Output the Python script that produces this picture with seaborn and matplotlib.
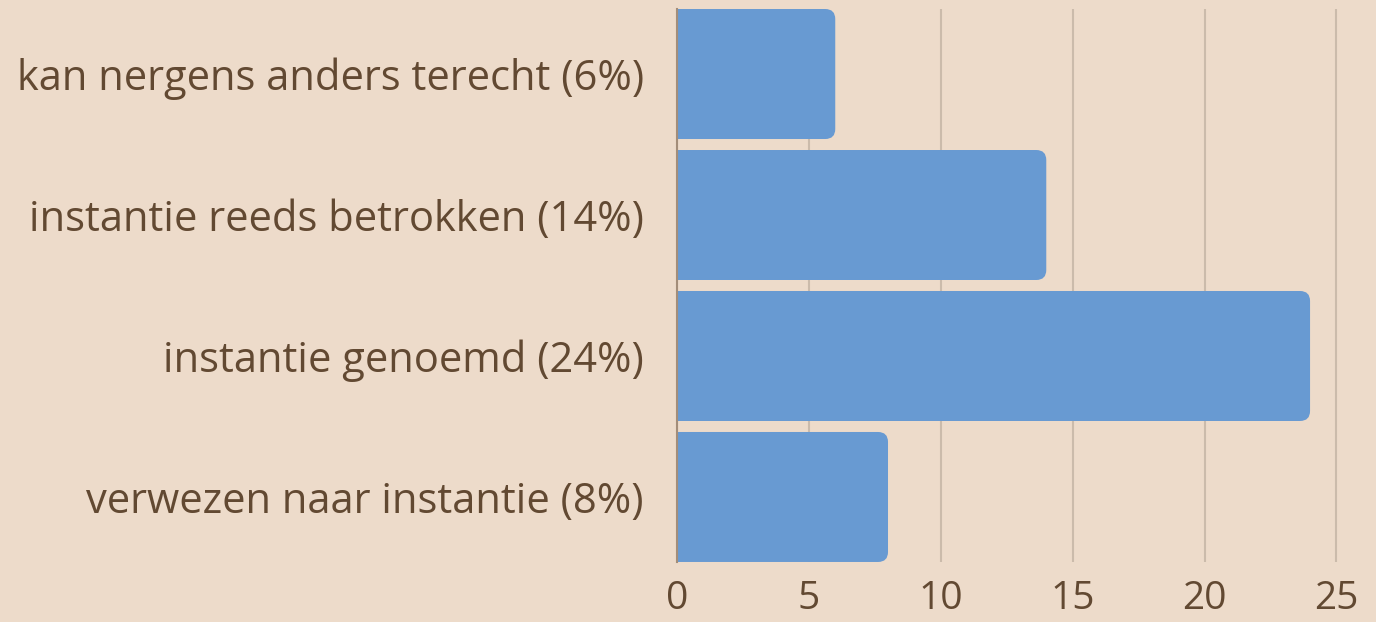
import pandas as pd
import seaborn as sns
import matplotlib.pyplot as plt
from matplotlib.patches import FancyBboxPatch

# Data
categories = ['kan nergens anders terecht (6%)',
              'instantie reeds betrokken (14%)',
              'instantie genoemd (24%)',
              'verwezen naar instantie (8%)']
counts = [6, 14, 24, 8]
xticks = [0, 5, 10, 15, 20, 25]

df = pd.DataFrame({'categorie': categories, 'aantal': counts})

bg = '#EDDBCA'
bar_color = '#689AD2'
text_color = '#624932'

sns.set_theme(style='white')
plt.rcParams['font.family'] = ['Open Sans', 'DejaVu Sans']

fig = plt.figure(figsize=(13.76, 6.22), dpi=100, facecolor=bg)
ax = fig.add_axes([0.492, 0.0965, 0.508, 0.889])
ax.set_facecolor(bg)

sns.barplot(data=df, x='aantal', y='categorie', color=bar_color,
            width=0.922, saturation=1, ax=ax, zorder=2)

# swap the square bars for ones with rounded right corners
r = 0.38
aspect = 0.187
for p in list(ax.patches):
    x0, y0 = p.get_x(), p.get_y()
    w, h = p.get_width(), p.get_height()
    p.remove()
    rb = FancyBboxPatch((x0 - r, y0), w + r, h,
                        boxstyle=f'round,pad=0,rounding_size={r}',
                        mutation_aspect=aspect,
                        facecolor=bar_color, edgecolor='none', zorder=2)
    ax.add_patch(rb)

ax.set_xlim(0, 26.5)
ax.set_ylim(3.461, -0.461)
ax.set_xticks(xticks)
ax.set_xticklabels([str(t) for t in xticks])

ax.grid(axis='x', color='#CBBBAB', linewidth=1.5, zorder=0)
ax.grid(axis='y', visible=False)
for s in ['top', 'right', 'bottom']:
    ax.spines[s].set_visible(False)
ax.spines['left'].set_color('#A38D79')
ax.spines['left'].set_linewidth(1.5)
ax.spines['left'].set_zorder(3)

ax.tick_params(axis='x', length=0, pad=13, labelsize=28, labelcolor=text_color)
ax.tick_params(axis='y', length=0, pad=24, labelsize=30, labelcolor=text_color)
ax.set_xlabel('')
ax.set_ylabel('')

fig.savefig('out.png', dpi=100, facecolor=bg)
